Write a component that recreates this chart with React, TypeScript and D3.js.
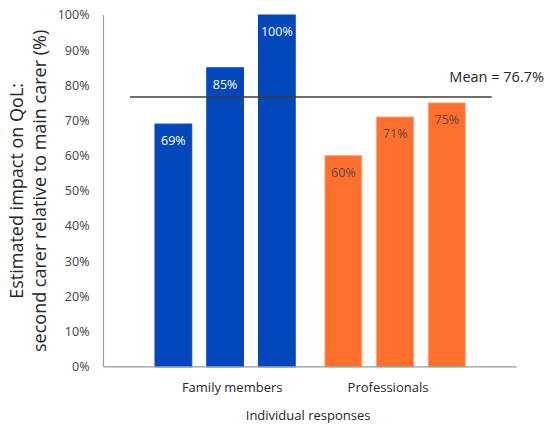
import { useEffect, useRef } from "react";
import * as d3 from "d3";

const GROUPS = ["Family members", "Professionals"];
const FAMILY_VALUES = [69, 85, 100];
const PROFESSIONAL_VALUES = [60, 71, 75];
const Y_TICKS = [0, 10, 20, 30, 40, 50, 60, 70, 80, 90, 100];
const MEAN_VALUE = 76.7;

const SERIES = [
  { group: GROUPS[0], values: FAMILY_VALUES, fill: "#0247BC", stroke: "#0247BC", label: "#ffffff" },
  { group: GROUPS[1], values: PROFESSIONAL_VALUES, fill: "#FF6F2E", stroke: "#FF9A6A", label: "#5a4a44" },
];

const WIDTH = 550;
const HEIGHT = 433;
const FONT = "'Open Sans', 'Noto Sans', sans-serif";

export default function App() {
  const ref = useRef<SVGSVGElement | null>(null);

  useEffect(() => {
    document.body.style.margin = "0";
    if (!ref.current) return;
    const svg = d3.select(ref.current);
    svg.selectAll("*").remove();

    const left = 103.5;
    const right = 516.7;
    const top = 15;
    const bottom = 366.8;

    const y = d3.scaleLinear().domain([0, 100]).range([bottom, top]);
    const xGroup = d3
      .scaleBand<string>()
      .domain(GROUPS)
      .range([left, right])
      .paddingInner(0.175)
      .paddingOuter(0.303);
    const xBar = d3
      .scaleBand<number>()
      .domain([0, 1, 2])
      .range([0, xGroup.bandwidth()])
      .paddingInner(0.29);
    const xLabel = d3.scalePoint<string>().domain(GROUPS).range([left, right]).padding(0.826);

    // y tick labels
    svg
      .append("g")
      .selectAll("text")
      .data(Y_TICKS)
      .enter()
      .append("text")
      .attr("x", left - 14)
      .attr("y", (d) => y(d))
      .attr("dy", "0.35em")
      .attr("text-anchor", "end")
      .attr("font-family", FONT)
      .attr("font-size", "12.5px")
      .attr("fill", "#404040")
      .text((d) => `${d}%`);

    // bars
    SERIES.forEach((s) => {
      const g = svg.append("g").attr("transform", `translate(${xGroup(s.group)},0)`);
      g.selectAll("rect")
        .data(s.values)
        .enter()
        .append("rect")
        .attr("x", (_, i) => xBar(i)!)
        .attr("y", (d) => y(d))
        .attr("width", xBar.bandwidth())
        .attr("height", (d) => bottom - y(d))
        .attr("fill", s.fill)
        .attr("stroke", s.stroke)
        .attr("stroke-width", 1);
      g.selectAll("text")
        .data(s.values)
        .enter()
        .append("text")
        .attr("x", (_, i) => xBar(i)! + xBar.bandwidth() / 2)
        .attr("y", (d) => y(d) + 17)
        .attr("dy", "0.35em")
        .attr("text-anchor", "middle")
        .attr("font-family", FONT)
        .attr("font-size", "12.5px")
        .attr("fill", s.label)
        .text((d) => `${d}%`);
    });

    // axes lines
    svg
      .append("line")
      .attr("x1", left)
      .attr("x2", left)
      .attr("y1", top)
      .attr("y2", bottom)
      .attr("stroke", "#9a9a9a")
      .attr("stroke-width", 1.2);
    svg
      .append("line")
      .attr("x1", left)
      .attr("x2", right)
      .attr("y1", bottom)
      .attr("y2", bottom)
      .attr("stroke", "#9a9a9a")
      .attr("stroke-width", 1.2);

    // mean line
    svg
      .append("line")
      .attr("x1", 130)
      .attr("x2", 491.7)
      .attr("y1", y(MEAN_VALUE))
      .attr("y2", y(MEAN_VALUE))
      .attr("stroke", "#3c3c3c")
      .attr("stroke-width", 1.5);
    svg
      .append("text")
      .attr("x", 544)
      .attr("y", y(MEAN_VALUE) - 20)
      .attr("dy", "0.35em")
      .attr("text-anchor", "end")
      .attr("font-family", FONT)
      .attr("font-size", "14.5px")
      .attr("fill", "#262626")
      .text(`Mean = ${MEAN_VALUE}%`);

    // category labels
    svg
      .append("g")
      .selectAll("text")
      .data(GROUPS)
      .enter()
      .append("text")
      .attr("x", (d) => xLabel(d)!)
      .attr("y", 387)
      .attr("dy", "0.35em")
      .attr("text-anchor", "middle")
      .attr("font-family", FONT)
      .attr("font-size", "13px")
      .attr("fill", "#262626")
      .text((d) => d);

    svg
      .append("text")
      .attr("x", (left + right) / 2 - 2)
      .attr("y", 415)
      .attr("dy", "0.35em")
      .attr("text-anchor", "middle")
      .attr("font-family", FONT)
      .attr("font-size", "13px")
      .attr("fill", "#262626")
      .text("Individual responses");

    // y axis title
    const title = svg
      .append("text")
      .attr("transform", `translate(0,${(top + bottom) / 2}) rotate(-90)`)
      .attr("text-anchor", "middle")
      .attr("font-family", FONT)
      .attr("font-size", "18px")
      .attr("fill", "#262626");
    title.append("tspan").attr("x", 0).attr("y", 23).text("Estimated impact on QoL:");
    title.append("tspan").attr("x", 0).attr("y", 46).text("second carer relative to main carer (%)");
  }, []);

  return <svg ref={ref} width={WIDTH} height={HEIGHT} style={{ display: "block", background: "#fff" }} />;
}
